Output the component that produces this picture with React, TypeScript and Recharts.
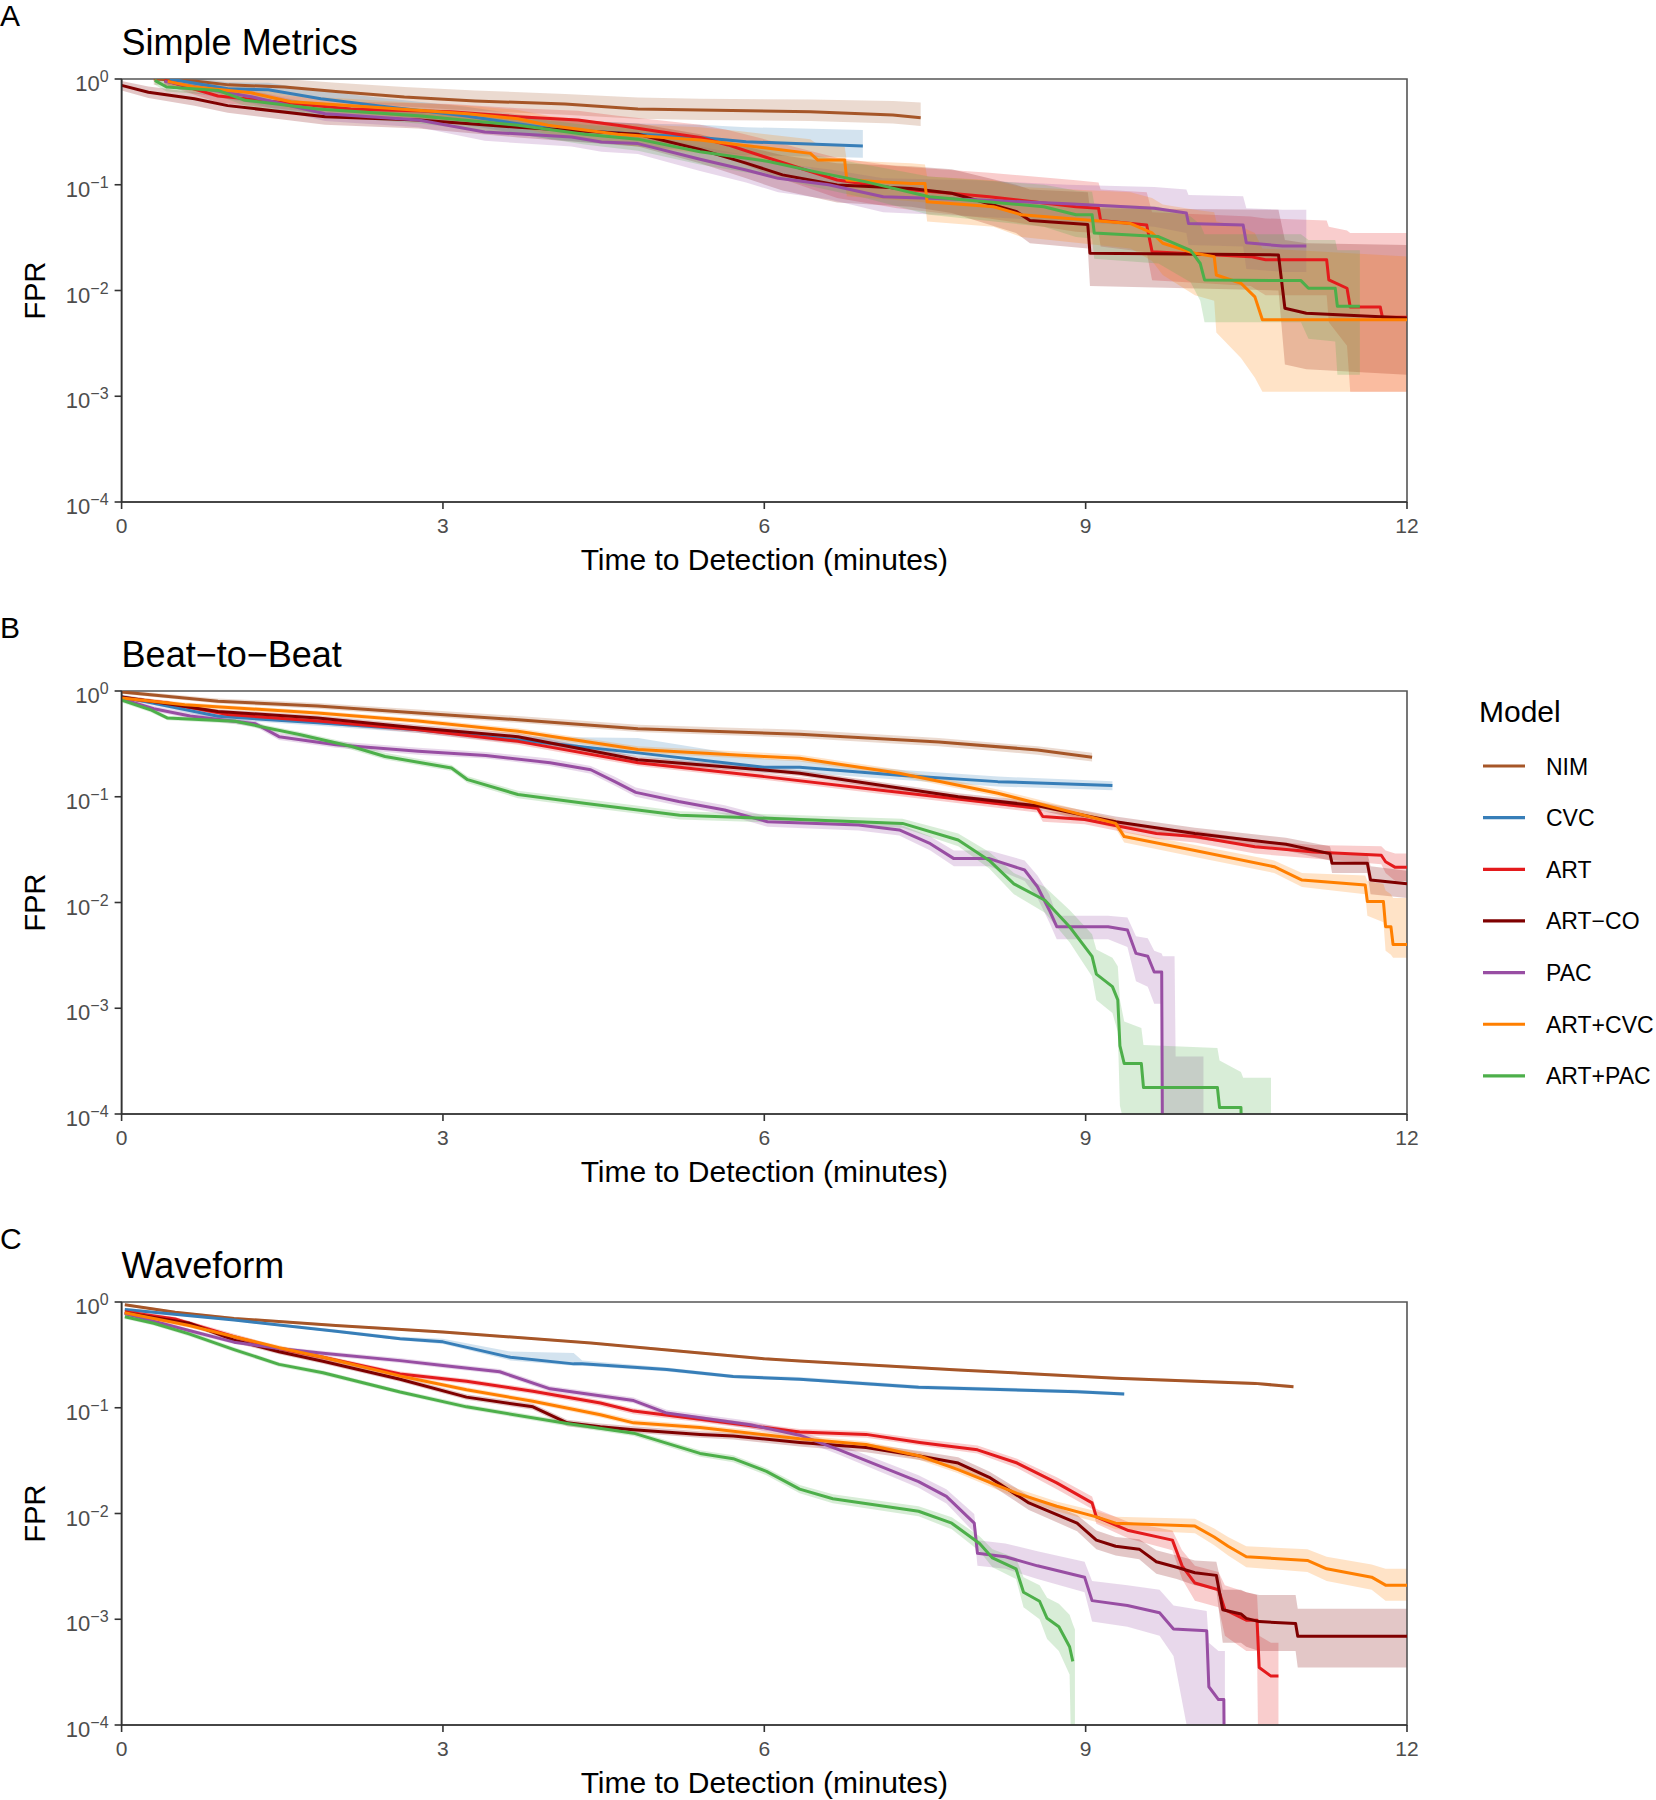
import React from 'react';
import { ComposedChart, Line, Area, XAxis, YAxis, ReferenceArea } from 'recharts';

const FONT = '"Liberation Sans", Arial, Helvetica, sans-serif';

// Models, colours and ticks
const MODELS = ['NIM', 'CVC', 'ART', 'ART\u2212CO', 'PAC', 'ART+CVC', 'ART+PAC'];
const COLORS = ['#A65628', '#377EB8', '#E41A1C', '#7F0000', '#984EA3', '#FF7F00', '#4DAF4A'];
const X_TICKS = [0, 3, 6, 9, 12];
const Y_TICKS = [1e-4, 1e-3, 1e-2, 1e-1, 1];
const PANEL_LETTERS = ['A', 'B', 'C'];
const PANEL_TITLES = ['Simple Metrics', 'Beat\u2212to\u2212Beat', 'Waveform'];
const X_TITLE = 'Time to Detection (minutes)';
const Y_TITLE = 'FPR';
const LEGEND_TITLE = 'Model';

// Each row: [minutes, FPR, CI low, CI high]
// ---------- Panel A: Simple Metrics ----------
const A_NIM = [
  [0.30, 1.0, 0.88, 1.2], [0.70, 0.95, 0.83, 1.1], [1.00, 0.88, 0.76, 1.05], [1.52, 0.84, 0.70, 1.0],
  [2.00, 0.76, 0.62, 0.92], [2.64, 0.675, 0.55, 0.84], [3.30, 0.62, 0.50, 0.78], [4.14, 0.58, 0.46, 0.72],
  [4.82, 0.52, 0.42, 0.67], [5.40, 0.51, 0.41, 0.65], [6.43, 0.49, 0.40, 0.64], [7.20, 0.457, 0.38, 0.62],
  [7.46, 0.43, 0.36, 0.60],
];
const A_CVC = [
  [0.45, 1.0, 0.9, 1.1], [0.99, 0.81, 0.70, 0.93], [1.37, 0.79, 0.68, 0.92], [1.86, 0.65, 0.55, 0.77],
  [2.39, 0.56, 0.47, 0.67], [3.20, 0.45, 0.37, 0.55], [4.00, 0.34, 0.27, 0.42], [4.82, 0.30, 0.23, 0.38],
  [5.40, 0.28, 0.21, 0.37], [5.83, 0.255, 0.19, 0.35], [6.92, 0.232, 0.18, 0.33],
];
const A_ART = [
  [0.40, 0.97, 0.88, 1.08], [0.90, 0.69, 0.60, 0.80], [1.50, 0.60, 0.52, 0.70], [2.14, 0.52, 0.44, 0.61],
  [3.07, 0.49, 0.41, 0.58], [3.70, 0.44, 0.36, 0.53], [4.26, 0.41, 0.33, 0.50], [4.63, 0.365, 0.29, 0.45],
  [5.00, 0.32, 0.25, 0.41], [5.40, 0.28, 0.21, 0.37], [5.66, 0.238, 0.18, 0.33], [6.00, 0.184, 0.13, 0.27],
  [6.68, 0.111, 0.075, 0.18], [7.24, 0.092, 0.06, 0.15], [8.10, 0.077, 0.048, 0.13], [8.91, 0.062, 0.036, 0.11],
  [9.12, 0.060, 0.035, 0.105], [9.14, 0.046, 0.026, 0.09], [9.57, 0.0417, 0.023, 0.085], [9.62, 0.0233, 0.0125, 0.055],
  [10.54, 0.0209, 0.011, 0.05], [10.68, 0.0195, 0.009, 0.048], [11.25, 0.0195, 0.009, 0.046], [11.27, 0.0126, 0.005, 0.04],
  [11.44, 0.0105, 0.003, 0.037], [11.47, 0.007, 0.0011, 0.035], [11.75, 0.007, 0.0011, 0.035], [11.77, 0.0056, 0.0011, 0.035],
  [12.0, 0.0056, 0.0011, 0.035],
];
const A_ARTCO = [
  [0.00, 0.87, 0.78, 0.96], [0.25, 0.75, 0.66, 0.85], [0.68, 0.65, 0.56, 0.75], [0.99, 0.56, 0.48, 0.66],
  [1.90, 0.44, 0.37, 0.53], [2.77, 0.41, 0.34, 0.50], [3.70, 0.35, 0.28, 0.43], [4.82, 0.30, 0.23, 0.38],
  [5.40, 0.216, 0.16, 0.30], [5.83, 0.16, 0.115, 0.23], [6.17, 0.124, 0.088, 0.19], [6.68, 0.0995, 0.068, 0.16],
  [7.37, 0.092, 0.062, 0.15], [7.75, 0.083, 0.054, 0.14], [8.35, 0.056, 0.035, 0.10], [8.48, 0.046, 0.028, 0.09],
  [9.02, 0.042, 0.025, 0.085], [9.04, 0.0225, 0.011, 0.06], [10.80, 0.0217, 0.010, 0.058], [10.86, 0.0068, 0.002, 0.03],
  [11.06, 0.0061, 0.0018, 0.028], [12.0, 0.0055, 0.0016, 0.027],
];
const A_PAC = [
  [0.40, 0.95, 0.85, 1.05], [0.80, 0.80, 0.70, 0.90], [1.21, 0.68, 0.59, 0.78], [1.90, 0.47, 0.40, 0.55],
  [2.77, 0.41, 0.35, 0.48], [3.39, 0.316, 0.26, 0.38], [4.20, 0.283, 0.23, 0.35], [4.48, 0.254, 0.205, 0.32],
  [4.82, 0.245, 0.195, 0.31], [5.40, 0.174, 0.135, 0.23], [5.83, 0.138, 0.105, 0.19], [6.13, 0.115, 0.085, 0.16],
  [6.60, 0.10, 0.073, 0.14], [7.11, 0.077, 0.055, 0.115], [7.97, 0.072, 0.05, 0.11], [8.83, 0.066, 0.045, 0.10],
  [9.64, 0.060, 0.04, 0.095], [9.94, 0.054, 0.035, 0.09], [9.96, 0.043, 0.027, 0.08], [10.47, 0.0417, 0.026, 0.078],
  [10.50, 0.0283, 0.016, 0.06], [10.84, 0.0263, 0.015, 0.058], [11.06, 0.0263, 0.015, 0.058],
];
const A_ARTCVC = [
  [0.43, 0.95, 0.86, 1.05], [0.68, 0.84, 0.75, 0.94], [1.21, 0.74, 0.65, 0.84], [1.58, 0.61, 0.53, 0.70],
  [2.36, 0.54, 0.46, 0.63], [3.23, 0.47, 0.39, 0.56], [3.70, 0.42, 0.35, 0.51], [3.98, 0.365, 0.30, 0.45],
  [4.63, 0.30, 0.24, 0.38], [5.40, 0.265, 0.20, 0.35], [5.78, 0.238, 0.18, 0.32], [6.43, 0.198, 0.145, 0.27],
  [6.50, 0.171, 0.125, 0.24], [6.75, 0.171, 0.12, 0.23], [6.77, 0.111, 0.078, 0.17], [7.37, 0.103, 0.07, 0.16],
  [7.50, 0.103, 0.068, 0.155], [7.52, 0.069, 0.045, 0.12], [8.14, 0.062, 0.04, 0.11], [8.40, 0.052, 0.032, 0.095],
  [9.42, 0.043, 0.025, 0.085], [9.62, 0.035, 0.019, 0.075], [9.72, 0.028, 0.014, 0.065], [10.02, 0.0225, 0.009, 0.058],
  [10.20, 0.0209, 0.008, 0.055], [10.22, 0.014, 0.004, 0.045], [10.45, 0.0117, 0.0023, 0.04], [10.58, 0.0087, 0.0015, 0.035],
  [10.65, 0.0053, 0.0011, 0.025], [12.0, 0.0053, 0.0011, 0.021],
];
const A_ARTPAC = [
  [0.31, 0.97, 0.88, 1.07], [0.42, 0.84, 0.76, 0.93], [0.90, 0.78, 0.70, 0.87], [1.15, 0.63, 0.56, 0.71],
  [1.83, 0.52, 0.45, 0.60], [2.77, 0.45, 0.38, 0.53], [3.70, 0.365, 0.30, 0.44], [4.32, 0.30, 0.24, 0.37],
  [4.82, 0.27, 0.21, 0.34], [5.40, 0.205, 0.155, 0.27], [6.04, 0.166, 0.12, 0.23], [6.47, 0.133, 0.095, 0.19],
  [6.94, 0.107, 0.075, 0.155], [7.54, 0.077, 0.052, 0.12], [8.61, 0.062, 0.04, 0.10], [8.91, 0.052, 0.032, 0.088],
  [9.06, 0.052, 0.031, 0.086], [9.08, 0.035, 0.02, 0.066], [9.68, 0.0324, 0.018, 0.062], [9.98, 0.024, 0.012, 0.05],
  [10.07, 0.018, 0.008, 0.042], [10.11, 0.0126, 0.005, 0.034], [11.01, 0.0124, 0.005, 0.034], [11.08, 0.0105, 0.0035, 0.03],
  [11.33, 0.0105, 0.0033, 0.03], [11.35, 0.0071, 0.0016, 0.024], [11.56, 0.0071, 0.0016, 0.024],
];

// ---------- Panel B: Beat-to-Beat ----------
const B_NIM = [
  [0.00, 0.98, 0.94, 1.02], [0.90, 0.80, 0.76, 0.85], [1.83, 0.72, 0.68, 0.77], [2.77, 0.62, 0.58, 0.67],
  [3.70, 0.535, 0.50, 0.58], [4.82, 0.44, 0.41, 0.48], [6.33, 0.39, 0.36, 0.43], [7.63, 0.33, 0.30, 0.36],
  [8.55, 0.277, 0.25, 0.30], [9.06, 0.236, 0.215, 0.26],
];
const B_CVC = [
  [0.00, 0.88, 0.85, 0.92], [0.90, 0.576, 0.54, 0.61], [1.83, 0.50, 0.47, 0.53], [2.77, 0.43, 0.40, 0.46],
  [3.82, 0.334, 0.31, 0.37], [4.82, 0.26, 0.24, 0.36], [6.00, 0.19, 0.17, 0.23], [6.33, 0.19, 0.17, 0.22],
  [7.26, 0.16, 0.145, 0.18], [8.18, 0.139, 0.125, 0.155], [9.25, 0.128, 0.115, 0.14],
];
const B_ART = [
  [0.00, 0.86, 0.82, 0.90], [0.43, 0.77, 0.73, 0.81], [0.99, 0.60, 0.57, 0.63], [1.83, 0.52, 0.49, 0.55],
  [2.77, 0.43, 0.40, 0.46], [3.70, 0.334, 0.31, 0.36], [4.82, 0.21, 0.195, 0.225], [6.00, 0.155, 0.145, 0.167],
  [7.07, 0.116, 0.107, 0.126], [8.55, 0.078, 0.071, 0.086], [8.60, 0.065, 0.058, 0.073], [8.99, 0.061, 0.055, 0.068],
  [9.66, 0.045, 0.040, 0.051], [10.02, 0.042, 0.037, 0.048], [10.58, 0.0337, 0.029, 0.039], [11.13, 0.030, 0.026, 0.035],
  [11.76, 0.028, 0.023, 0.034], [11.80, 0.0243, 0.019, 0.031], [11.89, 0.0215, 0.016, 0.029], [12.0, 0.0215, 0.016, 0.029],
];
const B_ARTCO = [
  [0.00, 0.88, 0.84, 0.92], [0.90, 0.64, 0.61, 0.67], [1.83, 0.556, 0.53, 0.59], [2.77, 0.447, 0.42, 0.48],
  [3.70, 0.37, 0.345, 0.40], [4.82, 0.224, 0.21, 0.24], [6.00, 0.179, 0.168, 0.19], [6.33, 0.167, 0.157, 0.178],
  [7.81, 0.10, 0.093, 0.108], [8.55, 0.082, 0.075, 0.09], [9.28, 0.058, 0.052, 0.065], [10.02, 0.045, 0.040, 0.051],
  [10.87, 0.0355, 0.031, 0.041], [11.28, 0.029, 0.025, 0.034], [11.30, 0.0235, 0.019, 0.029], [11.63, 0.0235, 0.019, 0.029],
  [11.66, 0.0163, 0.012, 0.022], [12.0, 0.015, 0.011, 0.02],
];
const B_PAC = [
  [0.00, 0.84, 0.80, 0.88], [0.30, 0.68, 0.64, 0.72], [0.64, 0.58, 0.55, 0.62], [1.25, 0.49, 0.46, 0.52],
  [1.47, 0.37, 0.345, 0.40], [2.00, 0.31, 0.29, 0.335], [2.77, 0.27, 0.25, 0.29], [3.40, 0.245, 0.23, 0.265],
  [4.00, 0.21, 0.195, 0.23], [4.38, 0.18, 0.165, 0.195], [4.60, 0.14, 0.128, 0.155], [4.80, 0.11, 0.10, 0.122],
  [5.20, 0.09, 0.082, 0.10], [5.63, 0.075, 0.068, 0.083], [6.03, 0.058, 0.052, 0.065], [6.88, 0.054, 0.048, 0.06],
  [7.26, 0.0485, 0.043, 0.055], [7.55, 0.036, 0.031, 0.042], [7.77, 0.026, 0.022, 0.031], [8.10, 0.026, 0.022, 0.031],
  [8.43, 0.0203, 0.016, 0.025], [8.55, 0.0141, 0.011, 0.018], [8.66, 0.0085, 0.0065, 0.012], [8.73, 0.0059, 0.0045, 0.0075],
  [9.21, 0.0059, 0.0045, 0.0075], [9.39, 0.0055, 0.0038, 0.0072], [9.47, 0.0033, 0.0018, 0.0048], [9.58, 0.0031, 0.0016, 0.0046],
  [9.64, 0.0022, 0.0011, 0.0035], [9.71, 0.0022, 0.0011, 0.0033], [9.72, 0.00001, 0.00001, 0.0031], [9.83, 0.00001, 0.00001, 0.0031],
  [9.84, 0.00001, 0.00001, 0.00035], [10.10, 0.00001, 0.00001, 0.00035],
];
const B_ARTCVC = [
  [0.00, 0.86, 0.82, 0.90], [0.59, 0.74, 0.70, 0.78], [1.83, 0.62, 0.59, 0.65], [2.77, 0.52, 0.49, 0.55],
  [3.70, 0.416, 0.39, 0.445], [4.82, 0.28, 0.26, 0.30], [6.00, 0.24, 0.225, 0.26], [6.33, 0.231, 0.215, 0.25],
  [7.26, 0.167, 0.155, 0.18], [8.18, 0.108, 0.10, 0.117], [9.28, 0.056, 0.05, 0.062], [9.36, 0.042, 0.037, 0.047],
  [10.02, 0.031, 0.027, 0.035], [10.76, 0.0218, 0.019, 0.025], [11.02, 0.0163, 0.014, 0.019], [11.61, 0.0146, 0.012, 0.018],
  [11.63, 0.0102, 0.0075, 0.016], [11.78, 0.0102, 0.0065, 0.015], [11.80, 0.0059, 0.0035, 0.013], [11.85, 0.0059, 0.0032, 0.012],
  [11.87, 0.0040, 0.0030, 0.011], [12.0, 0.0040, 0.0030, 0.011],
];
const B_ARTPAC = [
  [0.00, 0.82, 0.78, 0.86], [0.27, 0.665, 0.63, 0.70], [0.43, 0.555, 0.53, 0.58], [1.06, 0.517, 0.49, 0.545],
  [1.67, 0.386, 0.365, 0.41], [2.14, 0.30, 0.28, 0.32], [2.46, 0.24, 0.225, 0.26], [3.08, 0.187, 0.175, 0.20],
  [3.23, 0.145, 0.135, 0.156], [3.70, 0.105, 0.097, 0.114], [4.32, 0.087, 0.08, 0.095], [4.82, 0.075, 0.069, 0.082],
  [5.21, 0.067, 0.061, 0.073], [6.33, 0.061, 0.056, 0.067], [7.29, 0.056, 0.051, 0.062], [7.81, 0.039, 0.034, 0.045],
  [8.10, 0.025, 0.021, 0.03], [8.33, 0.015, 0.012, 0.019], [8.62, 0.0105, 0.008, 0.014], [8.85, 0.0059, 0.0042, 0.0085],
  [9.06, 0.0031, 0.002, 0.005], [9.10, 0.0021, 0.0012, 0.0036], [9.25, 0.0016, 0.0009, 0.003], [9.30, 0.0012, 0.0006, 0.0025],
  [9.32, 0.00044, 0.00012, 0.0012], [9.36, 0.0003, 0.00008, 0.00075], [9.52, 0.0003, 0.00005, 0.00065], [9.54, 0.000178, 0.00001, 0.00045],
  [10.23, 0.000178, 0.00001, 0.00042], [10.25, 0.000115, 0.00001, 0.00032], [10.45, 0.000115, 0.00001, 0.00025], [10.47, 0.00001, 0.00001, 0.00022],
  [10.73, 0.00001, 0.00001, 0.00022],
];

// ---------- Panel C: Waveform ----------
const C_NIM = [
  [0.03, 0.94, 0.92, 0.97], [0.50, 0.80, 0.78, 0.82], [1.05, 0.70, 0.685, 0.72], [2.00, 0.60, 0.585, 0.615],
  [3.00, 0.52, 0.505, 0.535], [4.38, 0.41, 0.40, 0.42], [5.40, 0.33, 0.32, 0.34], [6.00, 0.29, 0.283, 0.30],
  [6.33, 0.277, 0.27, 0.285], [7.81, 0.228, 0.222, 0.235], [9.28, 0.19, 0.185, 0.196], [10.58, 0.17, 0.165, 0.176],
  [10.94, 0.158, 0.153, 0.164],
];
const C_CVC = [
  [0.03, 0.85, 0.83, 0.88], [1.05, 0.676, 0.66, 0.69], [2.00, 0.53, 0.515, 0.55], [2.60, 0.45, 0.435, 0.47],
  [3.00, 0.42, 0.40, 0.45], [3.63, 0.30, 0.28, 0.34], [4.22, 0.26, 0.25, 0.33], [4.30, 0.26, 0.25, 0.28],
  [5.09, 0.23, 0.22, 0.24], [5.71, 0.197, 0.19, 0.205], [6.33, 0.186, 0.18, 0.195], [7.44, 0.156, 0.15, 0.163],
  [8.92, 0.142, 0.137, 0.148], [9.36, 0.135, 0.13, 0.14],
];
const C_ART = [
  [0.03, 0.81, 0.77, 0.85], [0.50, 0.69, 0.66, 0.72], [0.63, 0.63, 0.60, 0.66], [1.05, 0.47, 0.45, 0.50],
  [1.47, 0.363, 0.345, 0.38], [1.88, 0.30, 0.285, 0.315], [2.60, 0.209, 0.198, 0.22], [3.22, 0.178, 0.168, 0.188],
  [3.84, 0.143, 0.135, 0.152], [4.47, 0.111, 0.104, 0.118], [4.78, 0.093, 0.087, 0.099], [5.40, 0.078, 0.073, 0.083],
  [6.33, 0.059, 0.055, 0.063], [6.95, 0.056, 0.052, 0.06], [7.45, 0.047, 0.044, 0.051], [7.99, 0.040, 0.037, 0.044],
  [8.36, 0.030, 0.027, 0.033], [8.73, 0.0195, 0.017, 0.022], [9.06, 0.0126, 0.011, 0.0145], [9.10, 0.0093, 0.008, 0.011],
  [9.40, 0.0069, 0.0058, 0.0083], [9.81, 0.0056, 0.0045, 0.0069], [9.90, 0.0032, 0.0024, 0.0045], [10.02, 0.0022, 0.0015, 0.0032],
  [10.24, 0.0019, 0.0013, 0.0028], [10.30, 0.00123, 0.0007, 0.0021], [10.50, 0.00098, 0.0005, 0.0018], [10.60, 0.00098, 0.0005, 0.0017],
  [10.62, 0.00035, 0.00001, 0.0007], [10.73, 0.00029, 0.00001, 0.0006], [10.80, 0.00029, 0.00001, 0.0006],
];
const C_ARTCO = [
  [0.03, 0.79, 0.75, 0.83], [0.63, 0.63, 0.60, 0.66], [1.05, 0.436, 0.415, 0.46], [1.47, 0.339, 0.32, 0.355],
  [1.88, 0.275, 0.26, 0.29], [2.60, 0.186, 0.176, 0.197], [3.22, 0.126, 0.119, 0.134], [3.84, 0.102, 0.096, 0.109],
  [4.16, 0.072, 0.067, 0.077], [4.47, 0.066, 0.062, 0.071], [4.78, 0.062, 0.058, 0.067], [5.40, 0.056, 0.052, 0.06],
  [5.71, 0.054, 0.05, 0.058], [6.33, 0.047, 0.043, 0.051], [6.95, 0.042, 0.038, 0.046], [7.45, 0.035, 0.032, 0.039],
  [7.81, 0.030, 0.027, 0.034], [8.10, 0.022, 0.019, 0.025], [8.47, 0.0126, 0.0108, 0.0147], [8.92, 0.0081, 0.0068, 0.0097],
  [9.10, 0.0056, 0.0046, 0.0069], [9.28, 0.0049, 0.004, 0.006], [9.50, 0.0046, 0.0037, 0.0057], [9.66, 0.0035, 0.0027, 0.0045],
  [9.85, 0.0031, 0.0024, 0.004], [10.02, 0.00275, 0.0021, 0.0036], [10.22, 0.0026, 0.0019, 0.0035], [10.28, 0.00123, 0.0006, 0.0019],
  [10.45, 0.00112, 0.0006, 0.0019], [10.50, 0.00102, 0.00055, 0.0018], [10.62, 0.00095, 0.0005, 0.0017], [10.96, 0.00091, 0.0005, 0.0017],
  [10.98, 0.00069, 0.00035, 0.00126], [12.0, 0.00069, 0.00035, 0.00126],
];
const C_PAC = [
  [0.03, 0.776, 0.74, 0.81], [0.63, 0.537, 0.51, 0.56], [1.05, 0.417, 0.40, 0.44], [1.47, 0.363, 0.345, 0.38],
  [1.88, 0.327, 0.31, 0.345], [2.60, 0.279, 0.265, 0.295], [3.00, 0.251, 0.238, 0.265], [3.53, 0.219, 0.207, 0.232],
  [4.00, 0.151, 0.142, 0.161], [4.78, 0.117, 0.11, 0.125], [5.09, 0.089, 0.083, 0.096], [5.87, 0.069, 0.064, 0.075],
  [6.33, 0.055, 0.05, 0.06], [6.70, 0.040, 0.036, 0.045], [7.44, 0.020, 0.0175, 0.023], [7.70, 0.0145, 0.0124, 0.017],
  [7.96, 0.0081, 0.0066, 0.0099], [7.99, 0.0042, 0.0032, 0.0056], [8.25, 0.0039, 0.003, 0.0052], [8.55, 0.0032, 0.0024, 0.0044],
  [8.99, 0.0025, 0.0018, 0.0035], [9.06, 0.0015, 0.00095, 0.0023], [9.39, 0.00135, 0.00085, 0.0021], [9.69, 0.00115, 0.0007, 0.0019],
  [9.82, 0.00081, 0.00045, 0.00135], [10.13, 0.00078, 0.00001, 0.0012], [10.15, 0.00023, 0.00001, 0.0006], [10.24, 0.000174, 0.00001, 0.0005],
  [10.29, 0.000174, 0.00001, 0.0005], [10.30, 0.00001, 0.00001, 0.0005],
];
const C_ARTCVC = [
  [0.03, 0.79, 0.75, 0.83], [0.63, 0.60, 0.57, 0.63], [1.05, 0.47, 0.45, 0.49], [1.47, 0.37, 0.352, 0.39],
  [1.88, 0.30, 0.285, 0.315], [2.60, 0.20, 0.19, 0.21], [3.22, 0.148, 0.14, 0.156], [3.84, 0.115, 0.109, 0.122],
  [4.47, 0.086, 0.081, 0.091], [4.78, 0.072, 0.068, 0.077], [5.40, 0.065, 0.061, 0.069], [6.33, 0.051, 0.048, 0.055],
  [6.95, 0.045, 0.042, 0.048], [7.45, 0.035, 0.032, 0.038], [7.81, 0.026, 0.024, 0.029], [8.36, 0.0155, 0.014, 0.0172],
  [8.73, 0.0117, 0.0105, 0.013], [9.10, 0.0093, 0.0083, 0.0105], [9.28, 0.0081, 0.0071, 0.0093], [10.02, 0.0076, 0.0065, 0.0089],
  [10.20, 0.006, 0.005, 0.0072], [10.33, 0.0049, 0.004, 0.006], [10.50, 0.0039, 0.0031, 0.0049], [11.07, 0.0036, 0.0028, 0.0046],
  [11.25, 0.003, 0.0023, 0.0039], [11.67, 0.0025, 0.0019, 0.0033], [11.80, 0.0021, 0.0015, 0.003], [12.0, 0.0021, 0.0015, 0.003],
];
const C_ARTPAC = [
  [0.03, 0.724, 0.69, 0.76], [0.30, 0.63, 0.60, 0.66], [0.63, 0.50, 0.475, 0.525], [1.05, 0.355, 0.337, 0.373],
  [1.47, 0.257, 0.244, 0.27], [1.88, 0.214, 0.203, 0.225], [2.60, 0.141, 0.134, 0.148], [3.22, 0.102, 0.097, 0.108],
  [4.16, 0.071, 0.067, 0.075], [4.78, 0.0575, 0.054, 0.061], [5.40, 0.037, 0.0345, 0.0397], [5.71, 0.033, 0.0306, 0.0355],
  [6.02, 0.025, 0.023, 0.027], [6.33, 0.017, 0.0155, 0.0186], [6.64, 0.0138, 0.0125, 0.0152], [7.44, 0.0105, 0.0094, 0.0117],
  [7.75, 0.0081, 0.0071, 0.0092], [8.01, 0.0052, 0.0044, 0.0061], [8.13, 0.0038, 0.0031, 0.0046], [8.35, 0.0030, 0.0024, 0.0038],
  [8.42, 0.0018, 0.0013, 0.0025], [8.57, 0.00148, 0.001, 0.0021], [8.64, 0.00102, 0.00065, 0.0016], [8.75, 0.00085, 0.0005, 0.0014],
  [8.85, 0.00055, 0.0003, 0.0011], [8.88, 0.0004, 0.00001, 0.0009], [8.90, null, 0.00001, 0.0008],
];

const PANEL_A = [A_NIM, A_CVC, A_ART, A_ARTCO, A_PAC, A_ARTCVC, A_ARTPAC];
const PANEL_B = [B_NIM, B_CVC, B_ART, B_ARTCO, B_PAC, B_ARTCVC, B_ARTPAC];
const PANEL_C = [C_NIM, C_CVC, C_ART, C_ARTCO, C_PAC, C_ARTCVC, C_ARTPAC];
const PANELS = [PANEL_A, PANEL_B, PANEL_C];
const PANEL_TOPS = [79, 691, 1302];

const PLOT_LEFT = 121.6;
const PLOT_RIGHT = 1407;
const PLOT_H = 423;

const toRows = (arr: (number | null)[][]) =>
  arr.map(([t, f, lo, hi]) => ({ t, f, band: [lo, hi] }));

function YTick(props: any) {
  const { x, y, payload } = props;
  const e = Math.round(Math.log10(payload.value));
  const sup = e === 0 ? '0' : '\u2212' + String(-e);
  return (
    <text x={x} y={y + 12} textAnchor="end" fill="#4D4D4D" fontFamily={FONT} fontSize={22}>
      <tspan>10</tspan>
      <tspan dy={-9} fontSize={16}>{sup}</tspan>
    </text>
  );
}

function Panel({ top, series }: { top: number; series: (number | null)[][][] }) {
  const rows = series.map(toRows);
  return (
    <div style={{ position: 'absolute', left: 0, top: top - 10 }}>
      <ComposedChart
        width={PLOT_RIGHT + 13}
        height={10 + PLOT_H + 60}
        margin={{ top: 10, right: 13, bottom: 0, left: 0 }}
      >
        <XAxis
          dataKey="t"
          type="number"
          domain={[0, 12]}
          ticks={X_TICKS}
          interval={0}
          allowDataOverflow
          height={60}
          tickSize={7}
          tickMargin={9}
          tick={{ fill: '#4D4D4D', fontSize: 21, fontFamily: FONT }}
          axisLine={{ stroke: '#333333', strokeWidth: 1.6 }}
          tickLine={{ stroke: '#333333', strokeWidth: 1.6 }}
        />
        <YAxis
          type="number"
          scale="log"
          domain={[1e-4, 1]}
          ticks={Y_TICKS}
          interval={0}
          allowDataOverflow
          width={PLOT_LEFT}
          tickSize={7}
          tickMargin={6}
          tick={(p: any) => <YTick {...p} />}
          axisLine={{ stroke: '#333333', strokeWidth: 1.6 }}
          tickLine={{ stroke: '#333333', strokeWidth: 1.6 }}
        />
        {rows.map((r, i) => (
          <Area
            key={'band' + i}
            data={r}
            dataKey="band"
            type="linear"
            stroke="none"
            fill={COLORS[i]}
            fillOpacity={0.22}
            dot={false}
            activeDot={false}
            isAnimationActive={false}
          />
        ))}
        {rows.map((r, i) => (
          <Line
            key={'line' + i}
            data={r}
            dataKey="f"
            type="linear"
            stroke={COLORS[i]}
            strokeWidth={3}
            strokeLinejoin="round"
            dot={false}
            activeDot={false}
            connectNulls={false}
            isAnimationActive={false}
          />
        ))}
        <ReferenceArea
          x1={0}
          x2={12}
          y1={1e-4}
          y2={1}
          fill="none"
          fillOpacity={0}
          stroke="#555555"
          strokeWidth={1.6}
          ifOverflow="visible"
        />
      </ComposedChart>
    </div>
  );
}

export default function App() {
  const xMid = (PLOT_LEFT + PLOT_RIGHT) / 2;
  return (
    <div
      style={{
        position: 'absolute',
        left: 0,
        top: 0,
        width: 1656,
        height: 1800,
        overflow: 'hidden',
        background: '#ffffff',
        fontFamily: FONT,
      }}
    >
      {PANELS.map((s, k) => (
        <Panel key={k} top={PANEL_TOPS[k]} series={s} />
      ))}
      <svg
        width={1656}
        height={1800}
        style={{ position: 'absolute', left: 0, top: 0, pointerEvents: 'none' }}
        fontFamily={FONT}
      >
        {PANEL_TOPS.map((top, k) => {
          const off = top - 79;
          return (
            <g key={k}>
              <text x={0} y={26 + off} fontSize={30} fill="#000">{PANEL_LETTERS[k]}</text>
              <text x={PLOT_LEFT} y={55 + off} fontSize={36} fill="#000">{PANEL_TITLES[k]}</text>
              <text
                transform={`translate(45, ${top + PLOT_H / 2}) rotate(-90)`}
                textAnchor="middle"
                fontSize={29}
                fill="#000"
              >
                {Y_TITLE}
              </text>
              <text x={xMid} y={570 + off} textAnchor="middle" fontSize={30} fill="#000">{X_TITLE}</text>
            </g>
          );
        })}
        <text x={1479} y={722} fontSize={30} fill="#000">{LEGEND_TITLE}</text>
        {MODELS.map((m, i) => {
          const y = 766 + i * 51.65;
          return (
            <g key={m}>
              <line x1={1483} x2={1525} y1={y} y2={y} stroke={COLORS[i]} strokeWidth={3.2} />
              <text x={1546} y={y + 8.5} fontSize={23} fill="#000">{m}</text>
            </g>
          );
        })}
      </svg>
    </div>
  );
}
